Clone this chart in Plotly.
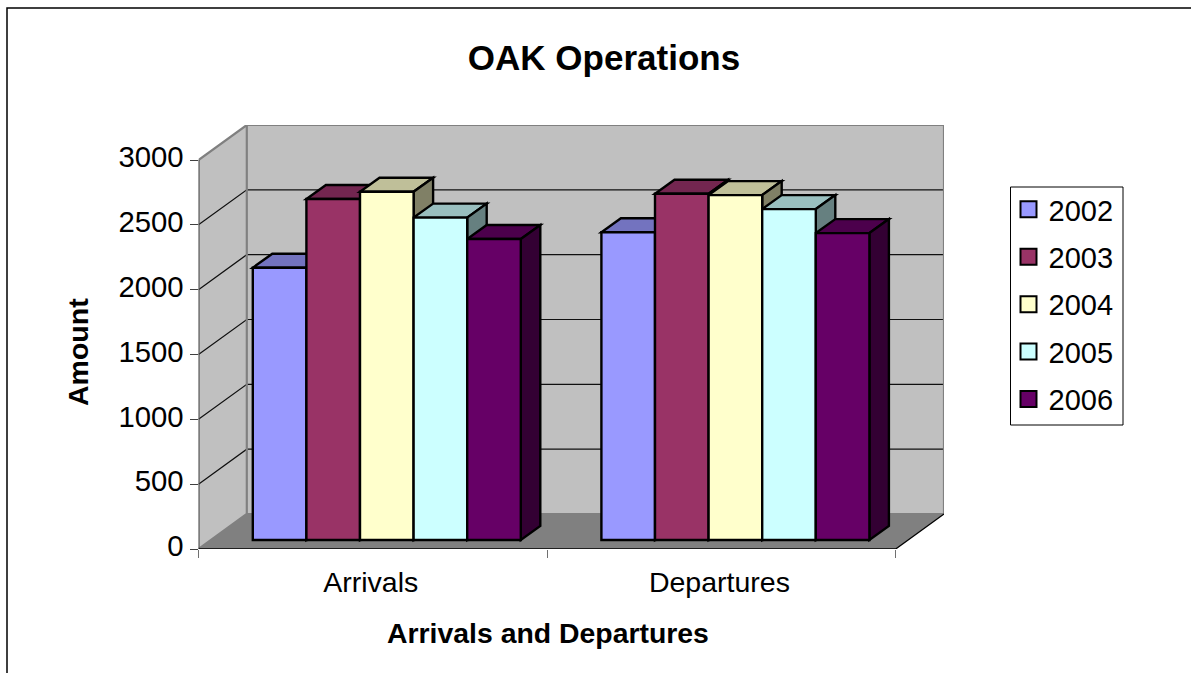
import plotly.graph_objects as go

categories = ["Arrivals", "Departures"]
years = ["2002", "2003", "2004", "2005", "2006"]
arrivals = [2100, 2630, 2686, 2486, 2321]
departures = [2373, 2670, 2660, 2552, 2367]
colors = ["#9999FF", "#993366", "#FFFFCC", "#CCFFFF", "#660066"]
top_colors = ["#7373BF", "#732650", "#BFBF99", "#99BFBF", "#4C004C"]
side_colors = ["#4D4D80", "#4D1A33", "#808066", "#668080", "#330033"]
y_ticks = [0, 500, 1000, 1500, 2000, 2500, 3000]

W, H = 1191, 673
X0, X1 = 198.5, 944.0
Y0, Y1 = 549.0, 125.0
CAT_PX = 348.6
VAL_PX = 389.0 / 3000

px_x = lambda p: p / CAT_PX
px_y = lambda p: p / VAL_PX

wall_dx, wall_dy = px_x(X1 - X0) - 2, px_y(35)
x_max = 2 + wall_dx
y_max = px_y(Y0 - Y1)
bar_w = px_x(53.6)
off_x, off_y = px_x(14), px_y(9)
side_dx, side_dy = px_x(19.5), px_y(14)


def path(points):
    return "M" + "L".join(f"{a},{b}" for a, b in points) + "Z"


def open_path(points):
    return "M" + "L".join(f"{a},{b}" for a, b in points)


shapes = []


def add(points, fill=None, color=None, width=0, closed=True):
    shapes.append(dict(
        type="path", xref="x", yref="y", layer="below",
        path=path(points) if closed else open_path(points),
        fillcolor=fill if fill else "rgba(0,0,0,0)",
        line=dict(color=color if color else "rgba(0,0,0,0)", width=width),
    ))


# walls and floor
add([(0, 0), (wall_dx, wall_dy), (wall_dx, y_max), (x_max, y_max), (x_max, wall_dy), (wall_dx, wall_dy),
     (wall_dx, y_max), (0, 3000)], fill="#C0C0C0")
add([(0, 0), (2, 0), (x_max, wall_dy), (wall_dx, wall_dy)], fill="#808080")

# gridlines
for v in y_ticks[1:-1]:
    add([(0, v), (wall_dx, v + wall_dy), (x_max, v + wall_dy)], color="#101010", width=1.2, closed=False)

# wall outline
add([(0, 3000), (wall_dx, y_max), (x_max, y_max), (x_max, wall_dy), (wall_dx, wall_dy)],
    color="#808080", width=2.2, closed=False)
add([(wall_dx, y_max), (wall_dx, wall_dy), (0, 0)], color="#808080", width=2.2, closed=False)
add([(0, 0), (0, 3000)], color="#505050", width=2.2, closed=False)
add([(0, 0), (2, 0), (x_max, wall_dy)], color="#000000", width=1.3, closed=False)

# depth faces of the bars
series = list(zip(arrivals, departures))
for c in range(2):
    for s in range(5):
        v = series[s][c]
        left = c + 0.5 + off_x - 2.5 * bar_w + s * bar_w
        right = left + bar_w
        base = off_y
        top = base + v
        add([(left, top), (right, top), (right + side_dx, top + side_dy), (left + side_dx, top + side_dy)],
            fill=top_colors[s], color="#000000", width=2.4)
        add([(right, base), (right, top), (right + side_dx, top + side_dy), (right + side_dx, base + side_dy)],
            fill=side_colors[s], color="#000000", width=2.4)

fig = go.Figure()
for s in range(5):
    fig.add_trace(go.Bar(
        x=[c + 0.5 + off_x - 2 * bar_w + s * bar_w for c in range(2)],
        y=list(series[s]),
        base=off_y,
        width=bar_w,
        name=years[s],
        showlegend=False,
        marker=dict(color=colors[s], line=dict(color="#000000", width=2.4)),
    ))
for s in range(5):
    fig.add_trace(go.Scatter(
        x=[None], y=[None], mode="markers", name=years[s], legendgroup=years[s],
        marker=dict(symbol="square", size=16, color=colors[s], line=dict(color="#000000", width=2)),
    ))

legend_box = dict(type="rect", xref="paper", yref="paper", layer="below",
                  x0=1010.5 / W, x1=1123 / W, y0=1 - 425 / H, y1=1 - 187 / H,
                  fillcolor="white", line=dict(color="#000000", width=1))
frame = dict(type="path", xref="paper", yref="paper", layer="below",
             path=open_path([(7 / W, 0), (7 / W, 1 - 8 / H), (1, 1 - 8 / H)]),
             line=dict(color="#000000", width=1.5))

fig.update_layout(
    width=W, height=H, autosize=False,
    margin=dict(l=0, r=0, t=0, b=0, pad=0),
    paper_bgcolor="white", plot_bgcolor="white",
    barmode="overlay",
    font=dict(family="Liberation Sans, Arial, sans-serif", size=28, color="#000000"),
    title=dict(text="<b>OAK Operations</b>", font=dict(size=35), x=604 / W, xanchor="center",
               y=1 - 58 / H, yanchor="middle"),
    xaxis=dict(
        domain=[X0 / W, X1 / W], range=[0, x_max], tickmode="array",
        tickvals=[0.5, 1.5], ticktext=categories, showgrid=False, zeroline=False, showline=False,
        ticks="outside", ticklen=8, tickcolor="rgba(0,0,0,0)", ticklabelshift=-2,
        minor=dict(tickmode="array", tickvals=[0, 1, 2], ticks="outside", ticklen=8,
                   tickcolor="#707070", tickwidth=1, showgrid=False),
        tickfont=dict(size=28.5), automargin=False, fixedrange=True,
    ),
    yaxis=dict(
        domain=[1 - Y0 / H, 1 - Y1 / H], range=[0, y_max], tickmode="array",
        tickvals=y_ticks, showgrid=False, zeroline=False, showline=False,
        ticks="outside", ticklen=8, tickcolor="#404040", tickwidth=1, ticklabelshift=-3,
        tickfont=dict(size=29.3), automargin=False, fixedrange=True,
    ),
    legend=dict(
        x=1008.5 / W, y=1 - 184 / H, xanchor="left", yanchor="top",
        bgcolor="rgba(0,0,0,0)", borderwidth=0,
        tracegroupgap=6.7, font=dict(size=29), itemsizing="trace",
    ),
    shapes=shapes + [frame, legend_box],
    annotations=[
        dict(text="<b>Arrivals and Departures</b>", xref="paper", yref="paper", x=548 / W, y=1 - 633 / H,
             showarrow=False, font=dict(size=28.4), xanchor="center", yanchor="middle"),
        dict(text="<b>Amount</b>", xref="paper", yref="paper", x=78 / W, y=1 - 352 / H, textangle=-90,
             showarrow=False, font=dict(size=28.5), xanchor="center", yanchor="middle"),
    ],
)

fig.write_html("out.html", config=dict(displayModeBar=False),
               post_script="document.body.style.margin='0';")
